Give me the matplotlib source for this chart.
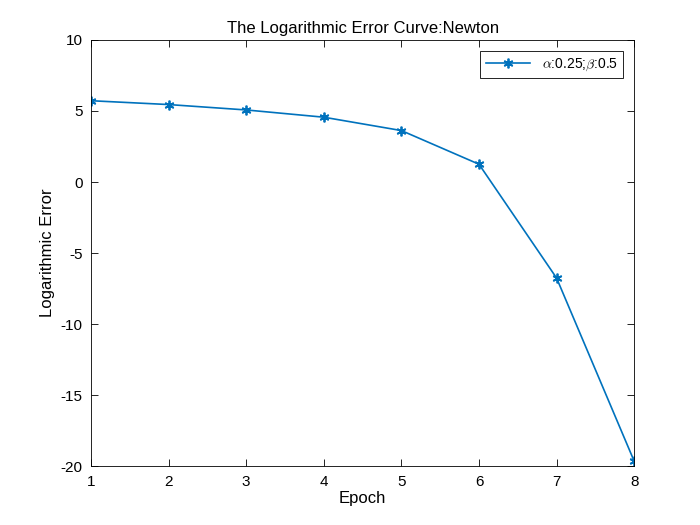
import matplotlib
matplotlib.use("Agg")
import matplotlib.pyplot as plt

epochs = [1, 2, 3, 4, 5, 6, 7, 8]
log_error = [5.72, 5.45, 5.07, 4.56, 3.62, 1.25, -6.76, -19.65]
label = r'$\alpha$:0.25;$\beta$:0.5'

plt.rcParams['font.family'] = ['Liberation Sans', 'DejaVu Sans']
plt.rcParams['mathtext.fontset'] = 'cm'
plt.rcParams['axes.unicode_minus'] = False

fig = plt.figure(figsize=(7, 5.25), dpi=100)
ax = fig.add_axes([0.13, 0.112, 0.776, 0.812])
ax.plot(epochs, log_error, color='#0072BD', linewidth=1.2, marker=(6, 2, 0),
        markersize=7, markeredgewidth=1.3, label=label)
ax.set_xlim(1, 8)
ax.set_ylim(-20, 10)
ax.set_xticks(range(1, 9))
ax.set_yticks(range(-20, 11, 5))
ax.tick_params(direction='in', top=True, right=True, labelsize=11, length=5, width=0.6, pad=6)
for s in ax.spines.values():
    s.set_linewidth(0.6)
ax.set_xlabel('Epoch', fontsize=12, labelpad=2)
ax.set_ylabel('Logarithmic Error', fontsize=12)
ax.set_title('The Logarithmic Error Curve:Newton', fontsize=12, pad=5)
leg = ax.legend(loc='upper right', fontsize=10, fancybox=False, edgecolor='black',
                framealpha=1, handlelength=3.2, borderaxespad=0.8)
leg.get_frame().set_linewidth(0.6)
fig.savefig('out.png')
